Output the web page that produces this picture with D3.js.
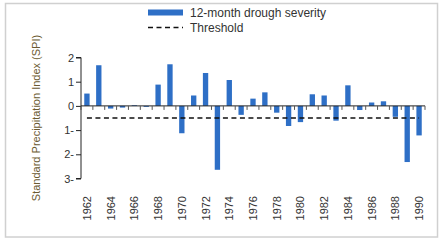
<!DOCTYPE html>
<html>
<head>
<meta charset="utf-8">
<script src="https://cdn.jsdelivr.net/npm/d3@7"></script>
<style>
  body { margin: 0; background: #fff; }
  svg text { font-family: "Liberation Sans", Arial, sans-serif; }
</style>
</head>
<body>
<div id="chart"></div>
<script>
let width = 443
let height = 244
let margin = { left: 81, right: 18, top: 57.5, bottom: 65.5 }

// data
let years = d3.range(1962, 1991)
let spi = [0.51, 1.68, -0.11, -0.07, 0.03, -0.04, 0.88, 1.72, -1.13, 0.43,
  1.36, -2.64, 1.07, -0.37, 0.30, 0.56, -0.28, -0.83, -0.67, 0.48,
  0.43, -0.61, 0.85, -0.17, 0.14, 0.19, -0.45, -2.32, -1.22]
let threshold = -0.5
let yTicks = [2, 1, 0, -1, -2, -3]
let seriesNames = ["12-month drough severity", "Threshold"]

let svg = d3.select("#chart").append("svg")
  .attr("width", width)
  .attr("height", height)

// outer frame
svg.append("rect")
  .attr("x", 5.5).attr("y", 3.5)
  .attr("width", 432).attr("height", 233.5)
  .attr("fill", "none")
  .attr("stroke", "#d0d0d0")
  .attr("stroke-width", 1.5)

let xScale = d3.scaleBand(years, [margin.left, width - margin.right])
  .paddingInner(0.55).paddingOuter(0.275)

let yScale = d3.scaleLinear([-3, 2], [height - margin.bottom, margin.top])

// bars
svg.selectAll(".bar")
  .data(years)
  .enter()
  .append("rect")
  .attr("class", "bar")
  .attr("x", (d, i) => xScale(d))
  .attr("width", xScale.bandwidth())
  .attr("y", (d, i) => yScale(Math.max(0, spi[i])))
  .attr("height", (d, i) => Math.abs(yScale(spi[i]) - yScale(0)))
  .attr("fill", "#2e6fc6")

// y axis
let yAxis = d3.axisLeft(yScale)
  .tickValues(yTicks)
  .tickSize(5)
  .tickFormat(d => d < 0 ? Math.abs(d) + "-" : d)

let yG = svg.append("g")
  .attr("transform", "translate(" + margin.left + ",0)")
  .call(yAxis)
yG.select(".domain").attr("stroke", "#222").attr("d", "M-5," + yScale(-3) + "H0V" + yScale(2) + "H-5")
yG.selectAll(".tick line").attr("stroke", "#222")
yG.selectAll(".tick text").attr("font-size", 11).attr("fill", "#333").attr("x", -7)

// x axis on zero line, ticks between categories
let step = xScale.step()
let x0 = margin.left
let x1 = width - margin.right
svg.append("line")
  .attr("x1", x0).attr("x2", x1)
  .attr("y1", yScale(0)).attr("y2", yScale(0))
  .attr("stroke", "#222")

let boundaries = d3.range(years.length + 1).map(i => x0 + i * step)
svg.selectAll(".xtick")
  .data(boundaries)
  .enter()
  .append("line")
  .attr("x1", d => d).attr("x2", d => d)
  .attr("y1", yScale(0)).attr("y2", yScale(0) + 4)
  .attr("stroke", "#555")

// year labels (every other year)
svg.selectAll(".xlabel")
  .data(years.filter(y => (y - 1962) % 2 === 0))
  .enter()
  .append("text")
  .attr("transform", d => "translate(" + (xScale(d) + xScale.bandwidth() / 2 + 4) + ",196) rotate(-90)")
  .attr("text-anchor", "end")
  .attr("font-size", 11)
  .attr("fill", "#333")
  .text(d => d)

// threshold
let tx0 = xScale(years[0]) + xScale.bandwidth() / 2
let tx1 = xScale(years[years.length - 1]) + xScale.bandwidth() / 2
svg.append("line")
  .attr("x1", tx0).attr("x2", tx1)
  .attr("y1", yScale(threshold)).attr("y2", yScale(threshold))
  .attr("stroke", "#111")
  .attr("stroke-width", 1.5)
  .attr("stroke-dasharray", "5,3.5")

// y title
svg.append("text")
  .attr("transform", "translate(40," + 118 + ") rotate(-90)")
  .attr("text-anchor", "middle")
  .attr("font-size", 11)
  .attr("fill", "#6b5a30")
  .text("Standard Precipitation Index (SPI)")

// legend
svg.append("rect")
  .attr("x", 148).attr("y", 9.5)
  .attr("width", 35).attr("height", 6)
  .attr("fill", "#2e6fc6")
svg.append("line")
  .attr("x1", 148).attr("x2", 183)
  .attr("y1", 27.5).attr("y2", 27.5)
  .attr("stroke", "#111")
  .attr("stroke-width", 1.5)
  .attr("stroke-dasharray", "5,3.5")
svg.selectAll(".legtext")
  .data(seriesNames)
  .enter()
  .append("text")
  .attr("x", 190)
  .attr("y", (d, i) => 17 + i * 14.5)
  .attr("font-size", 12)
  .attr("fill", "#333")
  .text(d => d)
</script>
</body>
</html>
